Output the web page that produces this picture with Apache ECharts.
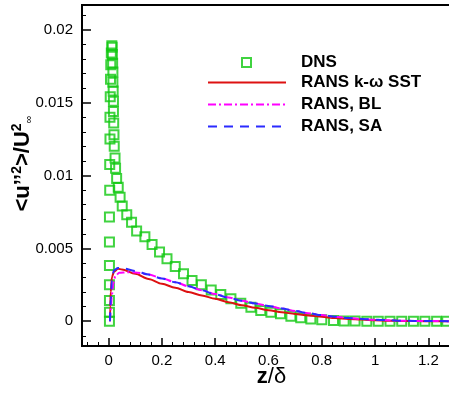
<!DOCTYPE html>
<html>
<head>
<meta charset="utf-8">
<script src="https://cdn.jsdelivr.net/npm/echarts@6/dist/echarts.min.js"></script>
<style>
    html, body { margin: 0; padding: 0; background: #fff; }
    #chart { width: 449px; height: 394px; }
</style>
</head>
<body>
<div id="chart"></div>
<script>
// DNS points (z/delta, <u''^2>/U^2)
var dnsZ = [0.003, 0.003, 0.003, 0.003, 0.003, 0.003, 0.003, 0.004, 0.004, 0.005, 0.005, 0.006, 0.007, 0.008, 0.010, 0.012,
    0.013, 0.014, 0.015, 0.016, 0.016, 0.017, 0.018, 0.018, 0.019, 0.020, 0.021, 0.024, 0.026, 0.030, 0.036, 0.043, 0.051,
    0.068, 0.086, 0.105, 0.136, 0.163, 0.191, 0.219, 0.250, 0.281, 0.313, 0.348, 0.385, 0.421, 0.459, 0.496, 0.534, 0.571,
    0.609, 0.645, 0.684, 0.721, 0.759, 0.800, 0.844, 0.884, 0.925, 0.969, 1.012, 1.056, 1.100, 1.144, 1.187, 1.231, 1.269];
var dnsU = [0, 0.00062, 0.00142, 0.0025, 0.00383, 0.00543, 0.00715, 0.00899, 0.01076, 0.0125, 0.0140, 0.0154, 0.0166, 0.0176, 0.0184, 0.0189,
    0.0188, 0.0183, 0.0177, 0.0171, 0.0164, 0.0158, 0.0151, 0.0144, 0.0136, 0.0128, 0.0120, 0.0112, 0.0105, 0.0098, 0.0092, 0.0085, 0.0079,
    0.0073, 0.0068, 0.0062, 0.0058, 0.00527, 0.00475, 0.00429, 0.00376, 0.00326, 0.0028, 0.0025, 0.00214, 0.00184, 0.00154, 0.00124, 0.00096, 0.00074,
    0.00062, 0.00051, 0.00034, 0.00023, 0.00016, 0.0001, 0.00005, 0.00002, 0.00001, 0, 0, 0, 0, 0, 0, 0, 0];

// RANS k-omega SST
var sstZ = [0.005, 0.006, 0.008, 0.012, 0.02, 0.035, 0.05, 0.1, 0.15, 0.2, 0.25, 0.3, 0.35, 0.4, 0.45, 0.5, 0.55, 0.6, 0.65,
    0.7, 0.75, 0.8, 0.85, 0.9, 0.95, 1.0, 1.05, 1.1, 1.2, 1.3];
var sstU = [0, 0.001, 0.002, 0.003, 0.0034, 0.0036, 0.00355, 0.00326, 0.0029, 0.00257, 0.0023, 0.0020, 0.00177, 0.00154, 0.0013, 0.0011,
    0.00093, 0.00076, 0.00061, 0.0005, 0.0004, 0.0003, 0.00022, 0.00016, 0.00011, 0.00007, 0.00004, 0.00002, 0, 0];

// RANS, BL
var blZ = [0.005, 0.008, 0.012, 0.018, 0.025, 0.04, 0.07, 0.1, 0.15, 0.2, 0.25, 0.3, 0.35, 0.4, 0.45, 0.5, 0.55, 0.6, 0.65,
    0.7, 0.75, 0.8, 0.85, 0.9, 0.95, 1.0, 1.05, 1.1, 1.2, 1.3];
var blU = [0, 0.0008, 0.0018, 0.0026, 0.0031, 0.00332, 0.00336, 0.00335, 0.00321, 0.00295, 0.00268, 0.0024, 0.00213, 0.00186, 0.00163, 0.00141,
    0.00122, 0.00104, 0.00087, 0.0007, 0.00055, 0.00042, 0.00031, 0.00022, 0.00015, 0.0001, 0.00006, 0.00003, 0.00001, 0];

// RANS, SA
var saZ = [0.005, 0.008, 0.012, 0.02, 0.035, 0.05, 0.1, 0.15, 0.2, 0.25, 0.3, 0.35, 0.4, 0.45, 0.5, 0.55, 0.6, 0.65,
    0.7, 0.75, 0.8, 0.85, 0.9, 0.95, 1.0, 1.05, 1.1, 1.15, 1.2, 1.3];
var saU = [0, 0.0015, 0.0028, 0.0035, 0.00365, 0.00364, 0.00345, 0.0032, 0.00293, 0.00268, 0.0024, 0.00212, 0.00185, 0.00162, 0.0014,
    0.00122, 0.00105, 0.00088, 0.0007, 0.00055, 0.00042, 0.00031, 0.00022, 0.00016, 0.00011, 0.00007, 0.00004, 0.00002, 0.00001, 0];

var seriesNames = ['DNS', 'RANS k-\u03c9 SST', 'RANS, BL', 'RANS, SA'];
var xTickStep = 0.2, yTickStep = 0.005;

function pairs(xs, ys) {
    var out = [];
    for (var i = 0; i < xs.length; i++) {
        out.push([xs[i], ys[i]]);
    }
    return out;
}

// only label the round ticks, hide the edge ones
function stepLabel(step, digits) {
    return function (v) {
        var r = Math.round(v / step);
        if (Math.abs(v - r * step) > step * 1e-6) return '';
        return String(+(r * step).toFixed(digits));
    };
}

var font = 'Liberation Sans, Arial, Helvetica, sans-serif';
var axisBase = {
    axisLine: { onZero: false, lineStyle: { color: '#000', width: 2 } },
    axisTick: { inside: true, length: 8, lineStyle: { color: '#000', width: 1.5 } },
    minorTick: { show: true, splitNumber: 5, length: 4, lineStyle: { color: '#000', width: 1 } },
    splitLine: { show: false },
    minorSplitLine: { show: false },
    nameMoveOverlap: false
};

var option = {
    animation: false,
    backgroundColor: '#fff',
    grid: {
        left: 82,
        top: 5,
        right: -6,
        bottom: 48,
        outerBoundsMode: 'none',
        containLabel: false,
        show: true,
        borderColor: '#000',
        borderWidth: 2
    },
    legend: [
        {
            data: [seriesNames[0]],
            left: 236,
            top: 49,
            itemWidth: 9,
            itemHeight: 9,
            icon: 'rect',
            itemStyle: { color: 'transparent', borderColor: '#10c810', borderWidth: 2 },
            textStyle: { fontFamily: font, fontSize: 17, fontWeight: 'bold', color: '#000', padding: [0, 0, 0, 45] }
        },
        {
            data: seriesNames.slice(1),
            orient: 'vertical',
            left: 202,
            top: 69,
            itemWidth: 78,
            itemHeight: 14,
            itemGap: 5,
            itemStyle: { opacity: 0 },
            textStyle: { fontFamily: font, fontSize: 17, fontWeight: 'bold', color: '#000', padding: [0, 0, 0, 10] }
        }
    ],
    xAxis: Object.assign({}, axisBase, {
        type: 'value',
        min: -0.1,
        max: 1.3,
        minInterval: xTickStep,
        maxInterval: xTickStep,
        axisLabel: { formatter: stepLabel(xTickStep, 1), fontFamily: font, fontSize: 15, color: '#000', margin: 7 },
        name: '{b|z}{n|/\u03b4}',
        nameLocation: 'middle',
        nameGap: 20,
        nameTextStyle: {
            padding: [0, 0, 0, 6],
            rich: {
                b: { fontFamily: font, fontSize: 22, fontWeight: 'bold', color: '#000' },
                n: { fontFamily: font, fontSize: 22, color: '#000' }
            }
        }
    }),
    yAxis: Object.assign({}, axisBase, {
        type: 'value',
        min: -0.0017,
        max: 0.0217,
        minInterval: yTickStep,
        maxInterval: yTickStep,
        axisTick: { inside: true, length: 9, lineStyle: { color: '#000', width: 1.5 } },
        axisLabel: { formatter: stepLabel(yTickStep, 3), fontFamily: font, fontSize: 15, color: '#000', margin: 9 },
        name: '{b|<u\u2019\u2019}{sup|2}{b|>/U}{sup|2}{sub|\u221e}',
        nameLocation: 'middle',
        nameRotate: 90,
        nameGap: 48,
        nameTextStyle: {
            padding: [0, 0, 0, 24],
            rich: {
                b: { fontFamily: font, fontSize: 22, fontWeight: 'bold', color: '#000', verticalAlign: 'bottom' },
                sup: { fontFamily: font, fontSize: 14, fontWeight: 'bold', color: '#000', verticalAlign: 'top', padding: [0, 0, 10, 0] },
                sub: { fontFamily: font, fontSize: 11, color: '#000', verticalAlign: 'bottom', padding: [6, 0, 0, 0] }
            }
        }
    }),
    series: [
        {
            name: seriesNames[0],
            type: 'scatter',
            symbol: 'rect',
            symbolSize: 9,
            itemStyle: { color: 'transparent', borderColor: '#10c810', borderWidth: 2 },
            data: pairs(dnsZ, dnsU),
            z: 2
        },
        {
            name: seriesNames[1],
            type: 'line',
            showSymbol: false,
            symbol: 'none',
            smooth: 0.3,
            smoothMonotone: 'x',
            color: '#dd1111',
            lineStyle: { color: '#dd1111', width: 2 },
            data: pairs(sstZ, sstU),
            z: 3
        },
        {
            name: seriesNames[2],
            type: 'line',
            showSymbol: false,
            symbol: 'none',
            smooth: 0.3,
            smoothMonotone: 'x',
            color: '#ff00ff',
            lineStyle: { color: '#ff00ff', width: 2, type: [8, 3, 2, 3] },
            data: pairs(blZ, blU),
            z: 3
        },
        {
            name: seriesNames[3],
            type: 'line',
            showSymbol: false,
            symbol: 'none',
            smooth: 0.3,
            smoothMonotone: 'x',
            color: '#2b2bff',
            lineStyle: { color: '#2b2bff', width: 2, type: [9, 7] },
            data: pairs(saZ, saU),
            z: 4
        }
    ]
};

var chart = echarts.init(document.getElementById('chart'), null, { renderer: 'canvas' });
chart.setOption(option);
</script>
</body>
</html>
